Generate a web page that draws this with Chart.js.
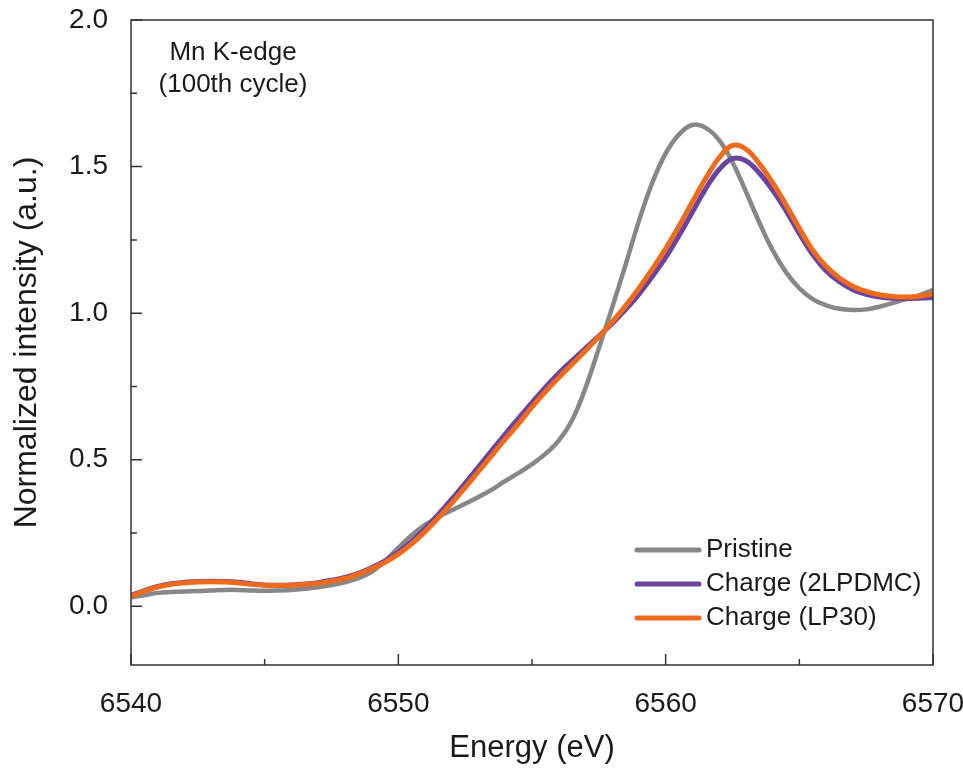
<!DOCTYPE html>
<html>
<head>
<meta charset="utf-8">
<script src="https://cdn.jsdelivr.net/npm/chart.js@4.4.1/dist/chart.umd.min.js"></script>
<style>
  html, body { margin: 0; padding: 0; background: #fff; }
  #wrap { width: 963px; height: 773px; }
</style>
</head>
<body>
<div id="wrap"><canvas id="c" width="963" height="773"></canvas></div>
<script>
// Energy grid (eV), 0.5 eV step
const energy = [
  6540, 6540.5, 6541, 6541.5, 6542, 6542.5, 6543, 6543.5, 6544, 6544.5,
  6545, 6545.5, 6546, 6546.5, 6547, 6547.5, 6548, 6548.5, 6549, 6549.5,
  6550, 6550.5, 6551, 6551.5, 6552, 6552.5, 6553, 6553.5, 6554, 6554.5,
  6555, 6555.5, 6556, 6556.5, 6557, 6557.5, 6558, 6558.5, 6559, 6559.5,
  6560, 6560.5, 6561, 6561.5, 6562, 6562.5, 6563, 6563.5, 6564, 6564.5,
  6565, 6565.5, 6566, 6566.5, 6567, 6567.5, 6568, 6568.5, 6569, 6569.5,
  6570
];

// Normalized Mn K-edge XANES intensity
const pristine = [
  0.030, 0.038, 0.046, 0.049, 0.051, 0.052, 0.054, 0.056, 0.056, 0.054,
  0.053, 0.054, 0.056, 0.060, 0.065, 0.073, 0.082, 0.096, 0.118, 0.155,
  0.200, 0.243, 0.278, 0.305, 0.328, 0.350, 0.373, 0.398, 0.428, 0.455,
  0.485, 0.520, 0.565, 0.635, 0.745, 0.880, 1.020, 1.165, 1.315, 1.445,
  1.545, 1.610, 1.642, 1.632, 1.590, 1.515, 1.415, 1.310, 1.215, 1.140,
  1.085, 1.048, 1.027, 1.015, 1.011, 1.013, 1.022, 1.035, 1.048, 1.062,
  1.080
];

const charge2LPDMC = [
  0.037, 0.054, 0.068, 0.077, 0.082, 0.085, 0.086, 0.085, 0.082, 0.077,
  0.073, 0.072, 0.073, 0.076, 0.081, 0.089, 0.099, 0.113, 0.132, 0.155,
  0.185, 0.222, 0.265, 0.314, 0.366, 0.420, 0.476, 0.532, 0.588, 0.642,
  0.695, 0.747, 0.795, 0.838, 0.880, 0.922, 0.965, 1.012, 1.065, 1.125,
  1.190, 1.265, 1.345, 1.425, 1.490, 1.527, 1.520, 1.478, 1.420, 1.350,
  1.272, 1.200, 1.145, 1.107, 1.080, 1.064, 1.055, 1.051, 1.050, 1.051,
  1.053
];

const chargeLP30 = [
  0.035, 0.052, 0.066, 0.075, 0.080, 0.083, 0.084, 0.083, 0.080, 0.075,
  0.072, 0.071, 0.072, 0.075, 0.079, 0.086, 0.095, 0.110, 0.128, 0.150,
  0.178, 0.213, 0.255, 0.302, 0.352, 0.405, 0.460, 0.515, 0.570, 0.623,
  0.680, 0.732, 0.780, 0.826, 0.872, 0.920, 0.970, 1.025, 1.085, 1.150,
  1.220, 1.297, 1.380, 1.460, 1.530, 1.572, 1.560, 1.510, 1.445, 1.370,
  1.290, 1.215, 1.160, 1.120, 1.092, 1.074, 1.063, 1.057, 1.055, 1.058,
  1.066
];

const seriesLabels = ['Pristine', 'Charge (2LPDMC)', 'Charge (LP30)'];
const seriesColors = ['#878787', '#6a44a0', '#f06a1c'];

// Axis ticks
const xMajorTicks = [6540, 6550, 6560, 6570];
const xMinorTicks = [6545, 6555, 6565];
const yMajorTicks = [0.0, 0.5, 1.0, 1.5, 2.0];
const yMinorTicks = [0.25, 0.75, 1.25, 1.75];

const annotationLines = ['Mn K-edge', '(100th cycle)'];

const FONT = '"Liberation Sans", Arial, Helvetica, sans-serif';
const AXIS_COLOR = '#333333';

const toPoints = ys => energy.map((e, i) => ({ x: e, y: ys[i] }));

// Frame, inward tick marks, corner note and in-plot legend
const framePlugin = {
  id: 'frame',
  afterDraw(chart) {
    const { ctx, chartArea: a, scales: { x, y } } = chart;
    ctx.save();
    ctx.strokeStyle = AXIS_COLOR;
    ctx.lineWidth = 1.5;
    ctx.strokeRect(a.left, a.top, a.right - a.left, a.bottom - a.top);

    ctx.beginPath();
    xMajorTicks.forEach(v => { const px = x.getPixelForValue(v); ctx.moveTo(px, a.bottom); ctx.lineTo(px, a.bottom - 11); });
    xMinorTicks.forEach(v => { const px = x.getPixelForValue(v); ctx.moveTo(px, a.bottom); ctx.lineTo(px, a.bottom - 6); });
    yMajorTicks.forEach(v => { const py = y.getPixelForValue(v); ctx.moveTo(a.left, py); ctx.lineTo(a.left + 11, py); });
    yMinorTicks.forEach(v => { const py = y.getPixelForValue(v); ctx.moveTo(a.left, py); ctx.lineTo(a.left + 6, py); });
    ctx.stroke();

    // note in the upper left corner
    ctx.fillStyle = '#1a1a1a';
    ctx.font = '26px ' + FONT;
    ctx.textAlign = 'center';
    ctx.textBaseline = 'middle';
    ctx.fillText(annotationLines[0], a.left + 102, a.top + 33);
    ctx.fillText(annotationLines[1], a.left + 102, a.top + 65);

    // legend in the lower right corner
    ctx.textAlign = 'left';
    ctx.lineCap = 'round';
    chart.data.datasets.forEach((ds, i) => {
      const ly = a.top + 530 + i * 34;
      ctx.strokeStyle = ds.borderColor;
      ctx.lineWidth = 5;
      ctx.beginPath();
      ctx.moveTo(a.left + 506, ly);
      ctx.lineTo(a.left + 568, ly);
      ctx.stroke();
      ctx.fillStyle = '#1a1a1a';
      ctx.fillText(ds.label, a.left + 575, ly);
    });
    ctx.restore();
  }
};

const datasets = [pristine, charge2LPDMC, chargeLP30].map((ys, i) => ({
  label: seriesLabels[i],
  data: toPoints(ys),
  borderColor: seriesColors[i],
  backgroundColor: seriesColors[i],
  borderWidth: i === 0 ? 4.5 : 5,
  pointRadius: 0,
  tension: 0.4,
  fill: false,
  order: 3 - i
}));

new Chart(document.getElementById('c'), {
  type: 'line',
  data: { datasets },
  plugins: [framePlugin],
  options: {
    responsive: false,
    animation: false,
    devicePixelRatio: 1,
    layout: { padding: { top: 20, right: 30, left: 0, bottom: 0 } },
    plugins: { legend: { display: false }, tooltip: { enabled: false } },
    scales: {
      x: {
        type: 'linear',
        min: 6540,
        max: 6570,
        afterBuildTicks: s => { s.ticks = xMajorTicks.map(v => ({ value: v })); },
        afterFit: s => { s.height = 108; s.paddingLeft = 0; s.paddingRight = 0; },
        grid: { display: false },
        border: { display: false },
        ticks: {
          color: '#1a1a1a',
          font: { family: FONT, size: 28 },
          padding: 14,
          maxRotation: 0,
          callback: v => String(v)
        },
        title: {
          display: true,
          text: 'Energy (eV)',
          color: '#1a1a1a',
          font: { family: FONT, size: 31 },
          padding: { top: 0, bottom: 6 }
        }
      },
      y: {
        type: 'linear',
        min: -0.2,
        max: 2.0,
        afterBuildTicks: s => { s.ticks = yMajorTicks.map(v => ({ value: v })); },
        afterFit: s => { s.width = 131; s.paddingTop = 0; s.paddingBottom = 0; },
        grid: { display: false },
        border: { display: false },
        ticks: {
          color: '#1a1a1a',
          font: { family: FONT, size: 28 },
          padding: 15,
          callback: v => Number(v).toFixed(1)
        },
        title: {
          display: true,
          text: 'Normalized intensity (a.u.)',
          color: '#1a1a1a',
          font: { family: FONT, size: 32 },
          padding: { top: 8, bottom: 0 }
        }
      }
    }
  }
});
</script>
</body>
</html>
